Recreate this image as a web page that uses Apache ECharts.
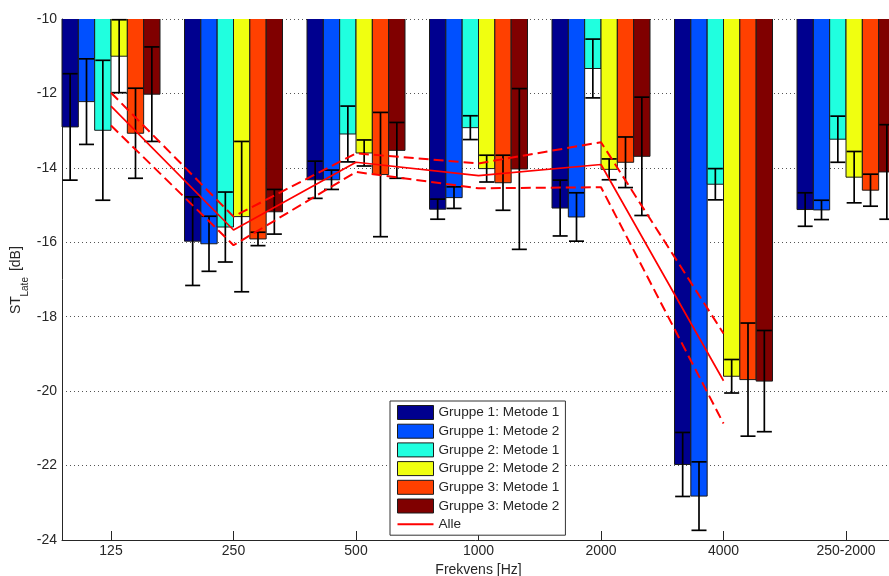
<!DOCTYPE html>
<html>
<head>
<meta charset="utf-8">
<script src="https://cdn.jsdelivr.net/npm/echarts@6/dist/echarts.min.js"></script>
<style>
html,body{margin:0;padding:0;background:#fff;}
#chart{width:889px;height:576px;}
</style>
</head>
<body>
<div id="chart"></div>
<script>
// ---- data ----
const categories = ['125', '250', '500', '1000', '2000', '4000', '250-2000'];
const seriesNames = ['Gruppe 1: Metode 1', 'Gruppe 1: Metode 2', 'Gruppe 2: Metode 1',
                     'Gruppe 2: Metode 2', 'Gruppe 3: Metode 1', 'Gruppe 3: Metode 2'];
const g1m1    = [-12.90, -15.97, -14.32, -15.11, -15.08, -21.97, -15.12];
const g1m1Err = [  1.43,   1.19,   0.50,   0.27,   0.75,   0.86,   0.45];
const g1m2    = [-12.22, -16.04, -14.32, -14.80, -15.32, -22.82, -15.13];
const g1m2Err = [  1.15,   0.74,   0.26,   0.29,   0.65,   0.92,   0.26];
const g2m1    = [-12.99, -15.59, -13.09, -12.92, -11.33, -14.44, -13.23];
const g2m1Err = [  1.88,   0.94,   0.75,   0.32,   0.79,   0.42,   0.62];
const g2m2    = [-11.00, -15.31, -13.60, -14.02, -14.04, -19.60, -14.25];
const g2m2Err = [  0.98,   2.02,   0.35,   0.36,   0.28,   0.45,   0.69];
const g3m1    = [-13.07, -15.91, -14.18, -14.40, -13.85, -19.69, -14.60];
const g3m1Err = [  1.21,   0.18,   1.67,   0.74,   0.68,   1.52,   0.43];
const g3m2    = [-12.02, -15.18, -13.53, -14.03, -13.69, -19.73, -14.11];
const g3m2Err = [  1.27,   0.60,   0.75,   2.16,   1.59,   1.36,   1.27];
// "Alle" (first six categories)
const alleMean  = [-12.34, -15.67, -13.85, -14.21, -13.91, -19.72];
const alleUpper = [-11.98, -15.31, -13.61, -13.88, -13.31, -18.45];
const alleLower = [-12.86, -16.08, -14.11, -14.55, -14.52, -20.87];
const yTicks = [-24, -22, -20, -18, -16, -14, -12, -10];

// ---- styles ----
const colors = ['#00008F', '#0050FF', '#20FFDF', '#F0FF10', '#FF4000', '#800000'];
const FONT = '"Liberation Sans", Arial, Helvetica, sans-serif';
const TXT = '#262626';
const FS = 14;
const means = [g1m1, g1m2, g2m1, g2m2, g3m1, g3m2];
const errs = [g1m1Err, g1m2Err, g2m1Err, g2m2Err, g3m1Err, g3m2Err];
const NB = 6, GROUPW = 0.8, BW = GROUPW / NB, BASE = -10;

function barRenderer(k) {
  return function (params, api) {
    const x = api.value(0), v = api.value(1), e = api.value(2);
    const xl = x - GROUPW / 2 + k * BW, xr = xl + BW;
    const pTL = api.coord([xl, BASE]);
    const pBR = api.coord([xr, v]);
    const xc = (pTL[0] + pBR[0]) / 2;
    const yHi = api.coord([x, v + e])[1];
    const yLo = api.coord([x, v - e])[1];
    const cap = (pBR[0] - pTL[0]) * 0.46;
    const lw = 1.7;
    return {
      type: 'group',
      children: [
        { type: 'rect', shape: { x: pTL[0], y: pTL[1], width: pBR[0] - pTL[0], height: pBR[1] - pTL[1] },
          style: { fill: colors[k] } },
        { type: 'polyline', shape: { points: [[pTL[0], pTL[1]], [pTL[0], pBR[1]], [pBR[0], pBR[1]], [pBR[0], pTL[1]]] },
          style: { stroke: '#1a1a1a', lineWidth: 1, fill: null } },
        { type: 'line', shape: { x1: xc, y1: yHi, x2: xc, y2: yLo }, style: { stroke: '#000', lineWidth: lw } },
        { type: 'line', shape: { x1: xc - cap, y1: yHi, x2: xc + cap, y2: yHi }, style: { stroke: '#000', lineWidth: lw } },
        { type: 'line', shape: { x1: xc - cap, y1: yLo, x2: xc + cap, y2: yLo }, style: { stroke: '#000', lineWidth: lw } }
      ]
    };
  };
}

const series = [];
for (let k = 0; k < NB; k++) {
  series.push({
    type: 'custom',
    name: seriesNames[k],
    itemStyle: { color: colors[k] },
    renderItem: barRenderer(k),
    encode: { x: 0, y: 1 },
    data: categories.map((c, i) => [i + 1, means[k][i], errs[k][i]])
  });
}
const tickPos = categories.map((c, i) => i + 1);
const toPts = arr => arr.map((v, i) => [i + 1, v]);
series.push({
  type: 'line', name: 'Alle', data: toPts(alleMean), symbol: 'none', silent: true,
  lineStyle: { color: '#FF0000', width: 1.7 }, itemStyle: { color: '#FF0000' }, z: 5
});
series.push({
  type: 'line', name: 'Alle øvre', data: toPts(alleUpper), symbol: 'none', silent: true,
  lineStyle: { color: '#FF0000', width: 2, type: [10, 5] }, z: 5
});
series.push({
  type: 'line', name: 'Alle nedre', data: toPts(alleLower), symbol: 'none', silent: true,
  lineStyle: { color: '#FF0000', width: 2, type: [10, 5] }, z: 5
});

const legendData = seriesNames.map((n, k) => ({
  name: n, icon: 'rect', itemStyle: { color: colors[k], borderColor: '#1a1a1a', borderWidth: 1 }
}));
legendData.push({ name: 'Alle', icon: 'path://M0,0H36V2H0Z', itemStyle: { color: '#FF0000', borderWidth: 0 } });

const chart = echarts.init(document.getElementById('chart'), null, { renderer: 'canvas' });
chart.setOption({
  animation: false,
  backgroundColor: '#fff',
  textStyle: { fontFamily: FONT },
  grid: { left: 62, top: 19, width: 833, height: 521, containLabel: false, outerBoundsMode: 'none' },
  xAxis: {
    type: 'value', min: 0.6, max: 7.4,
    name: 'Frekvens [Hz]', nameLocation: 'middle', nameGap: 20,
    nameTextStyle: { fontSize: FS, color: TXT, fontFamily: FONT },
    axisLine: { show: true, onZero: false, lineStyle: { color: '#262626', width: 1 } },
    axisTick: { show: true, inside: true, length: 9, customValues: tickPos, lineStyle: { color: '#262626' } },
    axisLabel: { customValues: tickPos, margin: 4, fontSize: FS, color: TXT, fontFamily: FONT,
                 formatter: v => categories[Math.round(v) - 1] },
    splitLine: { show: false }
  },
  yAxis: {
    type: 'value', min: yTicks[0], max: yTicks[yTicks.length - 1], interval: 2,
    axisLine: { show: true, onZero: false, lineStyle: { color: '#262626', width: 1 } },
    axisTick: { show: false },
    axisLabel: { margin: 5, fontSize: FS, color: TXT, fontFamily: FONT },
    splitLine: { show: true, lineStyle: { color: '#555', width: 1, type: [1, 3] } }
  },
  legend: {
    orient: 'vertical', left: 390, top: 401,
    itemWidth: 36, itemHeight: 14, itemGap: 3.7,
    padding: [4, 6, 4, 7],
    borderColor: '#333', borderWidth: 1, backgroundColor: '#fff',
    selectedMode: false,
    textStyle: { fontSize: 13.6, color: TXT, fontFamily: FONT, lineHeight: 14 },
    data: legendData
  },
  graphic: [{
    type: 'group', x: 0, y: 314, rotation: Math.PI / 2,
    children: [
      { type: 'text', x: 0, y: 16.5, style: { text: 'ST', fontSize: 14, fontFamily: FONT, fill: TXT, align: 'left', verticalAlign: 'middle' } },
      { type: 'text', x: 17.5, y: 25.5, style: { text: 'Late', fontSize: 10, fontFamily: FONT, fill: TXT, align: 'left', verticalAlign: 'middle' } },
      { type: 'text', x: 39, y: 16.5, style: { text: ' [dB]', fontSize: 14, fontFamily: FONT, fill: TXT, align: 'left', verticalAlign: 'middle' } }
    ]
  }],
  series: series
});
</script>
</body>
</html>
